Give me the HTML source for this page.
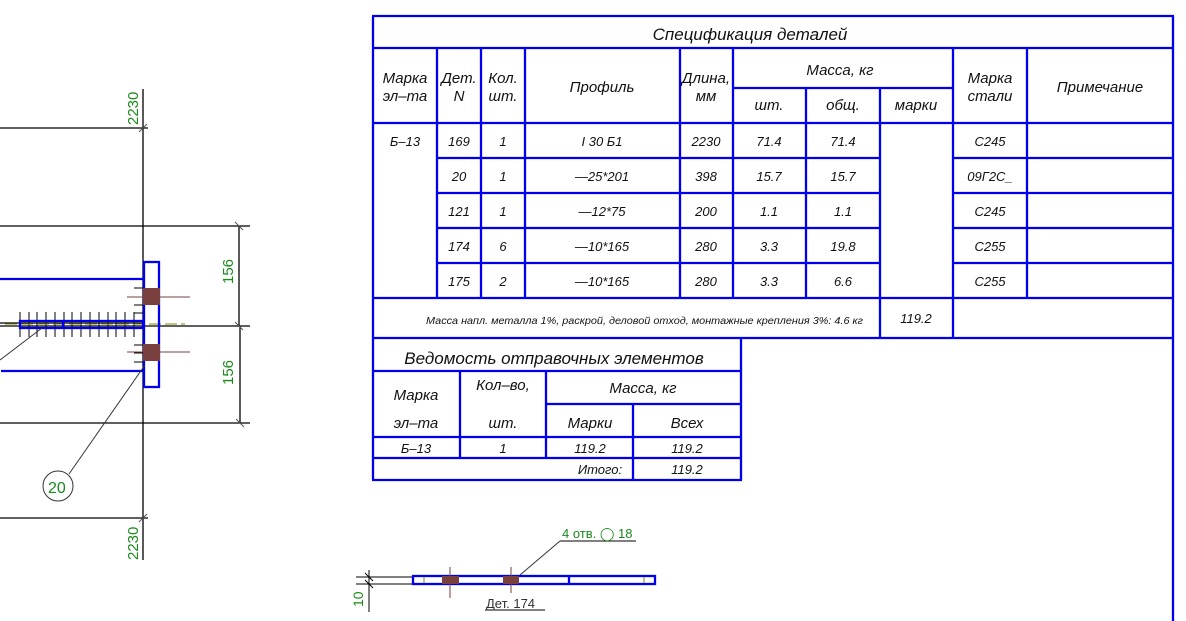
<!DOCTYPE html>
<html><head><meta charset="utf-8"><style>
html,body{margin:0;padding:0;background:#fff;width:1186px;height:621px;overflow:hidden}
text{font-family:"Liberation Sans","DejaVu Sans",sans-serif;font-style:italic;fill:#111}
.t{font-size:15px}
.s{font-size:13px}
.g{fill:#1a8a1a;font-style:normal}
</style></head><body>
<svg width="1186" height="621" viewBox="0 0 1186 621" xmlns="http://www.w3.org/2000/svg">
<!-- LEFT DRAWING -->
<g stroke="#000" stroke-width="1.3" fill="none">
<line x1="143" y1="89" x2="143" y2="560"/>
<line x1="0" y1="128" x2="148" y2="128"/>
<line x1="0" y1="226" x2="250" y2="226"/>
<line x1="0" y1="323" x2="143" y2="323"/>
<line x1="0" y1="326" x2="250" y2="326"/>
<line x1="0" y1="518" x2="148" y2="518"/>
<line x1="239" y1="226" x2="239" y2="326"/>
<line x1="240" y1="326" x2="240" y2="423"/>
<line x1="0" y1="423" x2="250" y2="423"/>
</g>
<g stroke="#555" stroke-width="1">
<line x1="139" y1="132" x2="147" y2="124"/>
<line x1="139" y1="522" x2="147" y2="514"/>
<line x1="235" y1="222" x2="243" y2="230"/>
<line x1="235" y1="322" x2="243" y2="330"/>
<line x1="236" y1="419" x2="244" y2="427"/>
</g>
<text class="g" font-size="15" transform="translate(138,125) rotate(-90)">2230</text>
<text class="g" font-size="15" transform="translate(138,560) rotate(-90)">2230</text>
<text class="g" font-size="15" transform="translate(233,284) rotate(-90)">156</text>
<text class="g" font-size="15" transform="translate(233,385) rotate(-90)">156</text>
<!-- ticks -->
<g stroke="#000" stroke-width="1">
<line x1="20" y1="312" x2="20" y2="337"/><line x1="29" y1="312" x2="29" y2="337"/><line x1="37" y1="312" x2="37" y2="337"/><line x1="46" y1="312" x2="46" y2="337"/><line x1="55" y1="312" x2="55" y2="337"/><line x1="64" y1="312" x2="64" y2="337"/><line x1="72" y1="312" x2="72" y2="337"/><line x1="81" y1="312" x2="81" y2="337"/><line x1="90" y1="312" x2="90" y2="337"/><line x1="99" y1="312" x2="99" y2="337"/><line x1="108" y1="312" x2="108" y2="337"/><line x1="116" y1="312" x2="116" y2="337"/><line x1="125" y1="312" x2="125" y2="337"/><line x1="134" y1="312" x2="134" y2="337"/>
<line x1="134" y1="288" x2="143" y2="288"/><line x1="134" y1="297" x2="143" y2="297"/><line x1="134" y1="305" x2="143" y2="305"/><line x1="134" y1="313" x2="143" y2="313"/>
<line x1="134" y1="345" x2="143" y2="345"/><line x1="134" y1="353" x2="143" y2="353"/><line x1="134" y1="362" x2="143" y2="362"/>
</g>
<line x1="5" y1="324" x2="185" y2="324" stroke="#8a8a00" stroke-width="1" stroke-dasharray="12,4"/>
<g stroke="#0000ee" stroke-width="2.3" fill="none">
<line x1="0" y1="279" x2="143" y2="279"/>
<line x1="1" y1="371" x2="143" y2="371"/>
<rect x="20" y="321" width="123" height="7"/>
<line x1="63" y1="321" x2="63" y2="328"/>
<rect x="144" y="262" width="15" height="125"/>
</g>
<rect x="143" y="288" width="17" height="17" fill="#7a4040"/>
<rect x="143" y="344" width="17" height="17" fill="#7a4040"/>
<line x1="127" y1="297" x2="190" y2="297" stroke="#7a4040" stroke-width="1"/>
<line x1="127" y1="352" x2="190" y2="352" stroke="#7a4040" stroke-width="1"/>
<g stroke="#333" stroke-width="1">
<line x1="0" y1="360" x2="42" y2="328"/>
<line x1="69" y1="474" x2="145" y2="365"/>
</g>
<circle cx="58" cy="486" r="15" fill="none" stroke="#333" stroke-width="1"/>
<text class="g" font-size="16" x="48" y="493">20</text>

<!-- SPEC TABLE -->
<g stroke="#0000ee" stroke-width="2.3" fill="none">
<line x1="372" y1="16" x2="1174" y2="16"/>
<line x1="373" y1="16" x2="373" y2="480"/>
<line x1="1173" y1="16" x2="1173" y2="621"/>
<line x1="373" y1="48" x2="1173" y2="48"/>
<line x1="733" y1="88" x2="953" y2="88"/>
<line x1="373" y1="123" x2="1173" y2="123"/>
<line x1="437" y1="158" x2="880" y2="158"/><line x1="953" y1="158" x2="1173" y2="158"/>
<line x1="437" y1="193" x2="880" y2="193"/><line x1="953" y1="193" x2="1173" y2="193"/>
<line x1="437" y1="228" x2="880" y2="228"/><line x1="953" y1="228" x2="1173" y2="228"/>
<line x1="437" y1="263" x2="880" y2="263"/><line x1="953" y1="263" x2="1173" y2="263"/>
<line x1="373" y1="298" x2="1173" y2="298"/>
<line x1="373" y1="338" x2="1173" y2="338"/>
<line x1="437" y1="48" x2="437" y2="298"/>
<line x1="481" y1="48" x2="481" y2="298"/>
<line x1="525" y1="48" x2="525" y2="298"/>
<line x1="680" y1="48" x2="680" y2="298"/>
<line x1="733" y1="48" x2="733" y2="298"/>
<line x1="806" y1="88" x2="806" y2="298"/>
<line x1="880" y1="88" x2="880" y2="338"/>
<line x1="953" y1="48" x2="953" y2="338"/>
<line x1="1027" y1="48" x2="1027" y2="298"/>
<!-- vedomost -->
<line x1="741" y1="338" x2="741" y2="480"/>
<line x1="373" y1="371" x2="741" y2="371"/>
<line x1="546" y1="404" x2="741" y2="404"/>
<line x1="373" y1="437" x2="741" y2="437"/>
<line x1="373" y1="458" x2="741" y2="458"/>
<line x1="372" y1="480" x2="742" y2="480"/>
<line x1="460" y1="371" x2="460" y2="458"/>
<line x1="546" y1="371" x2="546" y2="458"/>
<line x1="633" y1="404" x2="633" y2="480"/>
</g>
<g text-anchor="middle">
<text x="750" y="40" font-size="17">Спецификация деталей</text>
<text class="t" x="405" y="83">Марка</text><text class="t" x="405" y="101">эл–та</text>
<text class="t" x="459" y="83">Дет.</text><text class="t" x="459" y="101">N</text>
<text class="t" x="503" y="83">Кол.</text><text class="t" x="503" y="101">шт.</text>
<text class="t" x="602" y="92">Профиль</text>
<text class="t" x="706" y="83">Длина,</text><text class="t" x="706" y="101">мм</text>
<text class="t" x="840" y="75">Масса, кг</text>
<text class="t" x="769" y="110">шт.</text><text class="t" x="843" y="110">общ.</text><text class="t" x="916" y="110">марки</text>
<text class="t" x="990" y="83">Марка</text><text class="t" x="990" y="101">стали</text>
<text class="t" x="1100" y="92">Примечание</text>
<g class="s">
<text x="405" y="146">Б–13</text>
<text x="459" y="146">169</text><text x="503" y="146">1</text><text x="602" y="146">I 30 Б1</text><text x="706" y="146">2230</text><text x="769" y="146">71.4</text><text x="843" y="146">71.4</text><text x="990" y="146">С245</text>
<text x="459" y="181">20</text><text x="503" y="181">1</text><text x="602" y="181">—25*201</text><text x="706" y="181">398</text><text x="769" y="181">15.7</text><text x="843" y="181">15.7</text><text x="990" y="181">09Г2С_</text>
<text x="459" y="216">121</text><text x="503" y="216">1</text><text x="602" y="216">—12*75</text><text x="706" y="216">200</text><text x="769" y="216">1.1</text><text x="843" y="216">1.1</text><text x="990" y="216">С245</text>
<text x="459" y="251">174</text><text x="503" y="251">6</text><text x="602" y="251">—10*165</text><text x="706" y="251">280</text><text x="769" y="251">3.3</text><text x="843" y="251">19.8</text><text x="990" y="251">С255</text>
<text x="459" y="286">175</text><text x="503" y="286">2</text><text x="602" y="286">—10*165</text><text x="706" y="286">280</text><text x="769" y="286">3.3</text><text x="843" y="286">6.6</text><text x="990" y="286">С255</text>
<text x="916" y="323">119.2</text>
</g>
<text x="554" y="364" font-size="17">Ведомость отправочных элементов</text>
<text class="t" x="416" y="400">Марка</text><text class="t" x="416" y="428">эл–та</text>
<text class="t" x="503" y="390">Кол–во,</text><text class="t" x="503" y="428">шт.</text>
<text class="t" x="643" y="393">Масса, кг</text>
<text class="t" x="590" y="428">Марки</text><text class="t" x="687" y="428">Всех</text>
<text class="s" x="416" y="453">Б–13</text><text class="s" x="503" y="453">1</text><text class="s" x="590" y="453">119.2</text><text class="s" x="687" y="453">119.2</text>
<text class="s" x="600" y="474">Итого:</text><text class="s" x="687" y="474">119.2</text>
</g>
<text x="426" y="324" font-size="10.5" textLength="437" lengthAdjust="spacingAndGlyphs">Масса напл. металла 1%, раскрой, деловой отход, монтажные крепления 3%:   4.6 кг</text>

<!-- BOTTOM DETAIL -->
<g stroke="#000" stroke-width="1">
<line x1="356" y1="577" x2="413" y2="577"/>
<line x1="356" y1="584" x2="413" y2="584"/>
<line x1="369" y1="570" x2="369" y2="612"/>
<line x1="365" y1="573" x2="373" y2="581"/>
<line x1="365" y1="580" x2="373" y2="588"/>
<line x1="485" y1="610" x2="545" y2="610"/>
<line x1="560" y1="541" x2="636" y2="541"/>
</g>
<line x1="520" y1="575" x2="560" y2="541" stroke="#333" stroke-width="1"/>
<g stroke="#0000ee" stroke-width="2.3" fill="none">
<rect x="413" y="576" width="242" height="8"/>
<line x1="569" y1="576" x2="569" y2="584"/>
</g>
<line x1="424" y1="577" x2="424" y2="583" stroke="#8a8a00"/>
<line x1="644" y1="577" x2="644" y2="583" stroke="#8a8a00"/>
<rect x="442" y="576" width="17" height="8" fill="#7a4040"/>
<rect x="503" y="576" width="16" height="8" fill="#7a4040"/>
<line x1="450" y1="567" x2="450" y2="598" stroke="#7a4040"/>
<line x1="511" y1="567" x2="511" y2="593" stroke="#7a4040"/>
<text class="g" font-size="13" x="562" y="538">4 отв. ◯ 18</text>
<text class="g" font-size="13" x="486" y="608" style="fill:#333">Дет.  174</text>
<text class="g" font-size="14" transform="translate(363,607) rotate(-90)">10</text>
</svg>
</body></html>
